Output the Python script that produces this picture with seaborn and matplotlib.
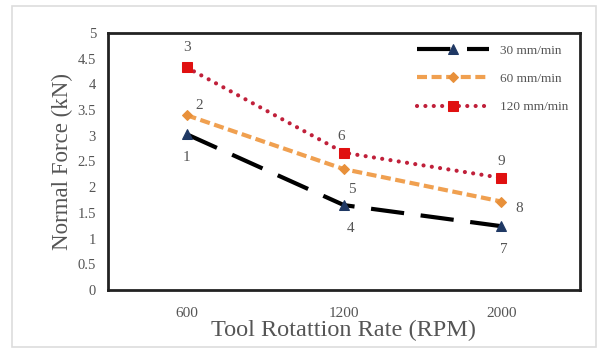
import numpy as np
import pandas as pd
import matplotlib.pyplot as plt
import seaborn as sns
from matplotlib.patches import Rectangle
from matplotlib.ticker import MultipleLocator

# datos
rpm = ["600", "1200", "2000"]
f30 = [3.03, 1.65, 1.24]
f60 = [3.40, 2.35, 1.72]
f120 = [4.33, 2.67, 2.18]
etiquetas30 = ["1", "4", "7"]
etiquetas60 = ["2", "5", "8"]
etiquetas120 = ["3", "6", "9"]

sns.set_style("white")
plt.rcParams["font.family"] = ["Liberation Serif", "DejaVu Serif"]

fig = plt.figure(figsize=(6.06, 3.54), dpi=100)
fig.patches.append(Rectangle((0.02, 0.02), 0.963, 0.962, transform=fig.transFigure,
                             fill=False, edgecolor="#dddddd", lw=1.2))
ax = fig.add_axes([0.178, 0.181, 0.779, 0.726])

gris = "#555555"

sns.lineplot(x=rpm, y=f30, ax=ax, color="black", lw=3, marker="^", markersize=7,
             markerfacecolor="#1f3864", markeredgecolor="#1f3864",
             dashes=(8, 4), label="30 mm/min", sort=False)
sns.lineplot(x=rpm, y=f60, ax=ax, color="#f0a050", lw=3, marker="D", markersize=5,
             markerfacecolor="#e8903a", markeredgecolor="#e8903a",
             dashes=(2.4, 1.1), label="60 mm/min", sort=False)
sns.lineplot(x=rpm, y=f120, ax=ax, color="#c0203a", lw=3, marker="s", markersize=7,
             markerfacecolor="#e01010", markeredgecolor="#e01010",
             dashes=(0.01, 2.0), dash_capstyle="round", label="120 mm/min", sort=False)

# numeros de los ensayos
offs30 = [(0, -17), (5, -17), (2, -17)]
offs60 = [(9, 7), (6, -15), (13, -5)]
offs120 = [(0, 14), (-2, 12), (0, 12)]
for vals, labs, offs in [(f30, etiquetas30, offs30), (f60, etiquetas60, offs60), (f120, etiquetas120, offs120)]:
    for i, (v, t, o) in enumerate(zip(vals, labs, offs)):
        ax.annotate(t, (i, v), xytext=o, textcoords="offset points", ha="center", va="center",
                    fontsize=11, color=gris)

ax.set_xlim(-0.5, 2.5)
ax.set_ylim(0, 5)
ax.yaxis.set_minor_locator(MultipleLocator(0.05))
ax.set_yticks(np.arange(0, 5.01, 0.5))
ax.set_yticklabels(["0", "0.5", "1", "1.5", "2", "2.5", "3", "3.5", "4", "4.5", "5"])
ax.tick_params(axis="y", which="major", direction="out", length=5, width=1, colors=gris, labelsize=10.5)
ax.tick_params(axis="y", which="minor", direction="in", length=2.5, width=0.8, color="#333333")
ax.tick_params(axis="x", which="major", direction="out", length=3, colors=gris, labelsize=11, pad=9)

for s in ax.spines.values():
    s.set_visible(True)
    s.set_color("#222222")
    s.set_linewidth(2)

ax.set_xlabel("Tool Rotattion Rate (RPM)", fontsize=17.5, color=gris, labelpad=0)
ax.set_ylabel("Normal Force (kN)", fontsize=16.5, color=gris, labelpad=3)

leg = ax.legend(loc="upper right", frameon=False, fontsize=9.5, handlelength=5.5,
                labelcolor=gris, borderaxespad=0.5, labelspacing=1.2, markerfirst=True)

plt.savefig("out.png", dpi=100)
